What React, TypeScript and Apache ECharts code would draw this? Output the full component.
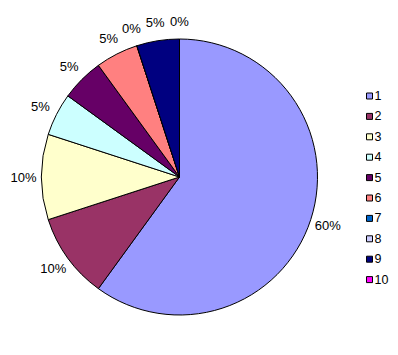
import React, { useEffect, useRef } from "react";
import * as echarts from "echarts";

const categories = ["1", "2", "3", "4", "5", "6", "7", "8", "9", "10"];
const values: (number | null)[] = [60, 10, 10, 5, 5, 5, 0, null, 5, 0];
const colors = [
  "#9999FF",
  "#993366",
  "#FFFFCC",
  "#CCFFFF",
  "#660066",
  "#FF8080",
  "#0066CC",
  "#CCCCFF",
  "#000080",
  "#FF00FF",
];

const CX = 179.5;
const CY = 177;
const RADIUS = 138;
const LABEL_R = 156;

export default function App() {
  const ref = useRef<HTMLDivElement>(null);
  useEffect(() => {
    if (!ref.current) return;
    const chart = echarts.init(ref.current, null, { renderer: "svg" });
    const total = values.reduce((s, v) => s + (v ?? 0), 0);
    const mids: number[] = [];
    let cum = 0;
    values.forEach((v) => {
      const val = v ?? 0;
      mids.push(((cum + val / 2) / total) * Math.PI * 2);
      cum += val;
    });
    chart.setOption({
      animation: false,
      backgroundColor: "#ffffff",
      legend: {
        orient: "vertical",
        left: 361,
        top: 84,
        itemWidth: 6,
        itemHeight: 6,
        itemGap: 6.4,
        icon: "rect",
        itemStyle: { borderColor: "#000000", borderWidth: 1 },
        textStyle: {
          fontFamily: "Liberation Sans, Arial, sans-serif",
          fontSize: 12.5,
          lineHeight: 14,
          color: "#000000",
          padding: [0, 0, 0, -3],
        },
        data: categories,
      },
      series: [
        {
          type: "pie",
          center: [CX, CY],
          radius: RADIUS,
          startAngle: 90,
          clockwise: true,
          avoidLabelOverlap: false,
          itemStyle: { borderColor: "#000000", borderWidth: 1 },
          emphasis: { disabled: true },
          label: {
            show: true,
            position: "outside",
            fontFamily: "Liberation Sans, Arial, sans-serif",
            fontSize: 13,
            color: "#000000",
            formatter: (p: any) =>
              p.value == null || isNaN(p.value) ? "" : Math.round(p.percent) + "%",
          },
          labelLine: { show: false },
          labelLayout: (params: any) => {
            const a = mids[params.dataIndex];
            return {
              x: CX + LABEL_R * Math.sin(a),
              y: CY - LABEL_R * Math.cos(a),
              align: "center",
              verticalAlign: "middle",
            };
          },
          data: categories.map((c, i) => ({
            name: c,
            value: values[i],
            itemStyle: { color: colors[i] },
          })),
        },
      ],
    });
    return () => chart.dispose();
  }, []);
  return (
    <div
      ref={ref}
      style={{ position: "fixed", left: 0, top: 0, width: 398, height: 355 }}
    />
  );
}
